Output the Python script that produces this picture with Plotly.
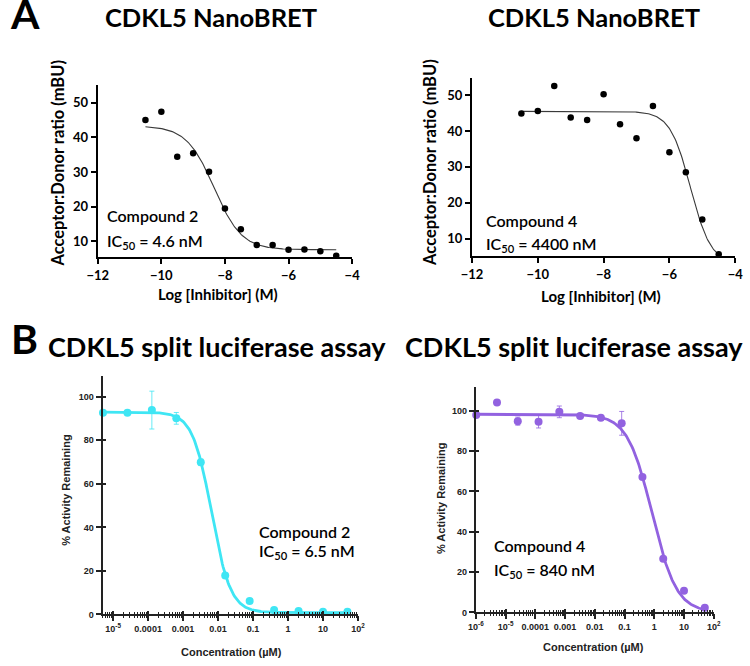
import numpy as np
import plotly.graph_objects as go

# ---------------- DATA ----------------
# Panel A: NanoBRET, x = log [Inhibitor] (M)
nb_log_conc = [-10.5, -10.0, -9.5, -9.0, -8.5, -8.0, -7.5, -7.0, -6.5, -6.0, -5.5, -5.0, -4.5]
nb_cpd2 = [45.0, 47.4, 34.4, 35.4, 30.1, 19.5, 13.5, 9.0, 9.0, 7.6, 7.7, 7.2, 5.9]
nb_cpd4 = [44.9, 45.6, 52.6, 43.8, 43.1, 50.3, 41.9, 38.0, 47.0, 34.1, 28.5, 15.3, 5.6]
# 4-parameter logistic fit parameters: top, bottom, logIC50, hill
nb_fit_cpd2 = [43.3, 7.6, -8.34, 1.0]
nb_fit_cpd4 = [45.5, 3.0, -5.36, 1.4]

# Panel B: split luciferase, x = concentration (uM)
sl_conc_cpd2 = [5.12e-6, 2.56e-5, 1.28e-4, 6.4e-4, 3.2e-3, 0.016, 0.08, 0.4, 2, 10, 50]
sl_cpd2 = [92.7, 92.7, 93.9, 90.1, 69.9, 17.9, 6.1, 2.0, 1.5, 1.2, 1.2]
sl_err_cpd2 = [0.5, 0.5, 8.7, 2.7, 1.5, 0.8, 0.5, 0.3, 0.3, 0.3, 0.3]
sl_conc_cpd4 = [1.024e-6, 5.12e-6, 2.56e-5, 1.28e-4, 6.4e-4, 3.2e-3, 0.016, 0.08, 0.4, 2, 10, 50]
sl_cpd4 = [98.0, 104.1, 94.9, 94.6, 99.5, 97.5, 96.6, 93.8, 67.2, 26.6, 10.7, 2.3]
sl_err_cpd4 = [0.5, 0.5, 2.0, 3.1, 2.9, 0.8, 0.8, 5.9, 1.0, 1.0, 0.8, 0.5]
sl_fit_cpd2 = [93.0, 0.8, np.log10(0.0065), 1.6]
sl_fit_cpd4 = [98.3, 0.0, np.log10(0.84), 1.05]

sl_xtick_vals = [1e-6, 1e-5, 1e-4, 1e-3, 1e-2, 1e-1, 1, 10, 100]
sl_xtick_text = ["10<sup>-6</sup>", "10<sup>-5</sup>", "0.0001", "0.001", "0.01", "0.1", "1", "10", "10<sup>2</sup>"]
sl_ytick_vals = [0, 20, 40, 60, 80, 100]
nb_xtick_vals = [-12, -10, -8, -6, -4]
nb_ytick_vals = [10, 20, 30, 40, 50]

CYAN = "#3fe6f4"
PURPLE = "#9262e0"

# minor tick positions for the log axes (2..9 in each decade)
minor_vals = [m * d for d in sl_xtick_vals[:-1] for m in range(2, 10)]


def logistic(logx, p):
    top, bottom, c, h = p
    return bottom + (top - bottom) / (1 + 10 ** (h * (logx - c)))


W, H = 750, 666


def px(x):
    return x / W


def py(y):
    return 1 - y / H


fig = go.Figure()

# ---- Panel A traces ----
for i, (vals, fit) in enumerate([(nb_cpd2, nb_fit_cpd2), (nb_cpd4, nb_fit_cpd4)]):
    ax = "" if i == 0 else "2"
    lx = np.linspace(min(nb_log_conc), max(nb_log_conc), 200)
    fig.add_trace(go.Scatter(x=lx, y=logistic(lx, fit), mode="lines",
                             line=dict(color="#3a3a3a", width=1.1),
                             xaxis="x" + ax, yaxis="y" + ax, showlegend=False, hoverinfo="skip"))
    fig.add_trace(go.Scatter(x=nb_log_conc, y=vals, mode="markers",
                             marker=dict(color="black", size=6.5),
                             xaxis="x" + ax, yaxis="y" + ax, showlegend=False, cliponaxis=False))

# ---- Panel B traces ----
for i, (conc, vals, err, fit, col) in enumerate([
        (sl_conc_cpd2, sl_cpd2, sl_err_cpd2, sl_fit_cpd2, CYAN),
        (sl_conc_cpd4, sl_cpd4, sl_err_cpd4, sl_fit_cpd4, PURPLE)]):
    ax = str(3 + i)
    lc = np.log10(conc)
    lx = np.linspace(lc.min(), lc.max(), 300)
    fig.add_trace(go.Scatter(x=10 ** lx, y=logistic(lx, fit), mode="lines",
                             line=dict(color=col, width=2.8),
                             xaxis="x" + ax, yaxis="y" + ax, showlegend=False, hoverinfo="skip"))
    fig.add_trace(go.Scatter(x=conc, y=vals, mode="markers",
                             marker=dict(color=col, size=8),
                             error_y=dict(type="data", array=err, color=col, thickness=0.8, width=2.5),
                             xaxis="x" + ax, yaxis="y" + ax, showlegend=False, cliponaxis=False))

# empty traces that carry the overlay axes (inner half of crossing ticks)
for ax in ["5", "6"]:
    fig.add_trace(go.Scatter(x=[], y=[], xaxis="x" + ax, yaxis="y" + ax, showlegend=False,
                             hoverinfo="skip"))

# ---- Axes ----
top_font = dict(family="Lato, Open Sans, sans-serif", size=13, color="black", weight="bold")
common_top = dict(showline=True, linecolor="black", linewidth=2, ticks="outside", ticklen=5,
                  tickwidth=2, tickcolor="black", showgrid=False, zeroline=False, tickfont=top_font)
bot_font = dict(family="Liberation Sans, Arial, sans-serif", size=9, color="#222", weight="bold")
common_bot = dict(showline=True, linecolor="#222", linewidth=2, ticks="outside", ticklen=5,
                  tickwidth=1.5, tickcolor="#222", showgrid=False, zeroline=False, tickfont=bot_font)
inner_bot = dict(showline=False, ticks="inside", ticklen=3, tickwidth=1.5, tickcolor="#222",
                 showgrid=False, zeroline=False, showticklabels=False)
minor_out = dict(ticks="outside", ticklen=2, tickwidth=1, tickcolor="#222", tickvals=minor_vals)
minor_in = dict(ticks="inside", ticklen=2, tickwidth=1, tickcolor="#222", tickvals=minor_vals)

B3_XR = [np.log10(5.0e-6), 2.0]
B3_YR = [0, 109.5]
B4_XR = [-6, 2]
B4_YR = [0, 111.8]

layout = dict(
    width=W, height=H, margin=dict(l=0, r=0, t=0, b=0),
    paper_bgcolor="white", plot_bgcolor="white",
    xaxis=dict(domain=[px(89), px(350)], range=[-12, -4], tickvals=nb_xtick_vals,
               anchor="y", **common_top),
    yaxis=dict(domain=[py(259), py(86)], range=[5.5, 55], tickvals=nb_ytick_vals,
               anchor="x", **common_top),
    xaxis2=dict(domain=[px(473), px(743)], range=[-12, -4], tickvals=nb_xtick_vals,
                anchor="y2", **common_top),
    yaxis2=dict(domain=[py(258), py(79)], range=[5.1, 54.7], tickvals=nb_ytick_vals,
                anchor="x2", **common_top),
    xaxis3=dict(domain=[px(94), px(356)], type="log", range=B3_XR,
                tickvals=sl_xtick_vals, ticktext=sl_xtick_text, anchor="y3",
                minor=minor_out, **common_bot),
    yaxis3=dict(domain=[py(619), py(379)], range=B3_YR, tickvals=sl_ytick_vals,
                anchor="x3", **common_bot),
    xaxis4=dict(domain=[px(477), px(721)], type="log", range=B4_XR,
                tickvals=sl_xtick_vals, ticktext=sl_xtick_text, anchor="y4",
                minor=minor_out, **common_bot),
    yaxis4=dict(domain=[py(617), py(390)], range=B4_YR, tickvals=sl_ytick_vals,
                anchor="x4", **common_bot),
    xaxis5=dict(overlaying="x3", type="log", range=B3_XR, tickvals=sl_xtick_vals,
                anchor="y5", minor=minor_in, **inner_bot),
    yaxis5=dict(overlaying="y3", range=B3_YR, tickvals=sl_ytick_vals, anchor="x5", **inner_bot),
    xaxis6=dict(overlaying="x4", type="log", range=B4_XR, tickvals=sl_xtick_vals,
                anchor="y6", minor=minor_in, **inner_bot),
    yaxis6=dict(overlaying="y4", range=B4_YR, tickvals=sl_ytick_vals, anchor="x6", **inner_bot),
)
fig.update_layout(**layout)

F = "Lato, Open Sans, sans-serif"
ann = []


def text(x, y, s, size, weight="bold", angle=0, xanchor="center", family=F, color="black"):
    ann.append(dict(x=px(x), y=py(y), xref="paper", yref="paper", text=s, showarrow=False,
                    xanchor=xanchor, yanchor="middle", textangle=angle,
                    font=dict(family=family, size=size, color=color, weight=weight)))


# Panel letters and titles
text(14, 14, "A", 41)
text(14, 341, "B", 41)
text(205, 17, "CDKL5 NanoBRET", 25.5)
text(598, 17, "CDKL5 NanoBRET", 25.5)
text(211, 349, "CDKL5 split luciferase assay", 27)
text(578, 349, "CDKL5 split luciferase assay", 27)

# axis titles panel A
text(48, 164, "Acceptor:Donor ratio (mBU)", 16.5, angle=-90)
text(430, 164, "Acceptor:Donor ratio (mBU)", 16.5, angle=-90)
text(212, 296, "Log [Inhibitor] (M)", 15)
text(605, 298, "Log [Inhibitor] (M)", 15)

# axis titles panel B
BF = "Liberation Sans, Arial, sans-serif"
text(57, 494, "% Activity Remaining", 11, angle=-90, family=BF, color="#222")
text(441, 502, "% Activity Remaining", 11, angle=-90, family=BF, color="#222")
text(226, 657, "Concentration (µM)", 11, family=BF, color="#222")
text(598, 652, "Concentration (µM)", 11, family=BF, color="#222")

# compound annotations
text(96, 217, "Compound 2", 16, weight=600, xanchor="left")
text(96, 243, "IC<sub>50</sub> = 4.6 nM", 16, weight=600, xanchor="left")
text(485, 222, "Compound 4", 16, weight=600, xanchor="left")
text(485, 246, "IC<sub>50</sub> = 4400 nM", 16, weight=600, xanchor="left")
text(252, 536, "Compound 2", 16, weight=600, xanchor="left")
text(252, 556, "IC<sub>50</sub> = 6.5 nM", 16, weight=600, xanchor="left")
text(493, 550, "Compound 4", 16, weight=600, xanchor="left")
text(493, 575, "IC<sub>50</sub> = 840 nM", 16, weight=600, xanchor="left")

fig.update_layout(annotations=ann)
fig.write_html("out.html", config={"displayModeBar": False},
               post_script="document.body.style.margin='0px';document.body.style.overflow='hidden';")
